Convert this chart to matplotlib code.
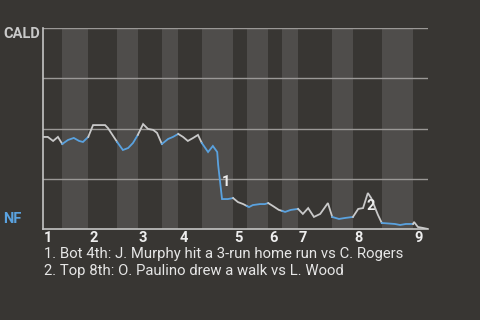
import matplotlib
matplotlib.use("Agg")
import matplotlib.pyplot as plt

plt.rcParams['font.family'] = ['Roboto', 'DejaVu Sans']

# half-inning boundaries, in plate appearances
half_bounds = [0, 4.0, 9.4, 15.4, 19.7, 24.7, 28.1, 33.0, 39.5, 42.4,
               46.8, 49.7, 53.0, 60.1, 64.4, 70.4, 76.9, 80.0]
inning_labels = ['1', '2', '3', '4', '5', '6', '7', '8', '9']

# win probability for the away side (CALD), percent
pa = [0.0, 1.0, 2.1, 3.1, 4.0, 5.2, 6.4, 7.5, 8.3, 9.4,
      10.4, 12.9, 13.5, 15.4, 16.6, 17.7, 18.7, 19.7, 20.8, 21.8,
      22.9, 23.7, 24.7, 26.0, 27.0, 28.1, 29.1, 30.1, 31.2, 32.2,
      33.0, 34.3, 35.3, 36.2, 36.4, 36.8, 37.2, 38.4, 39.5, 40.5,
      41.6, 42.4, 42.8, 43.6, 45.1, 46.1, 46.8, 47.8, 49.0, 49.7,
      50.3, 51.5, 53.0, 54.0, 55.1, 56.3, 57.6, 59.2, 60.1, 61.5,
      62.8, 64.4, 65.5, 66.5, 67.5, 68.2, 69.6, 70.4, 73.1, 74.2,
      75.4, 76.9, 77.1, 77.9, 79.0, 80.0]
wp = [45.8, 45.8, 43.8, 45.8, 42.3, 44.3, 45.3, 43.8, 43.3, 45.8,
      51.7, 51.7, 50.2, 43.3, 39.3, 40.3, 42.8, 46.8, 52.2, 49.8,
      49.3, 47.8, 42.3, 44.8, 45.8, 47.3, 45.8, 43.8, 45.3, 46.8,
      42.8, 38.3, 41.3, 38.3, 31.8, 23.4, 14.9, 14.9, 15.4, 13.4,
      12.4, 11.4, 10.9, 11.9, 12.4, 12.4, 12.9, 11.4, 9.5, 9.0,
      8.5, 9.5, 10.0, 7.5, 10.4, 6.0, 7.5, 12.9, 6.0, 5.0,
      5.5, 6.0, 10.0, 10.4, 17.9, 15.4, 7.0, 3.0, 2.5, 2.0,
      2.5, 2.5, 3.5, 1.0, 0.5, 0.0]

# key plays: index into pa/wp, label, offset of the number (points)
note_idx = [35, 64]
note_num = ['1', '2']
note_off = [(4.5, 0), (2.2, -9.4)]
notes = ['1. Bot 4th: J. Murphy hit a 3-run home run vs C. Rogers',
         '2. Top 8th: O. Paulino drew a walk vs L. Wood']

away, home = 'CALD', 'NF'
bg = '#383633'
band = '#4f4d4b'
away_col = '#c9c9c9'
home_col = '#5aa2df'

fig = plt.figure(figsize=(4.8, 3.2), dpi=100, facecolor=bg)
ax = fig.add_axes([43/480, 1-229/320, 385/480, 201/320])
ax.set_facecolor(bg)
ax.set_xlim(half_bounds[0], half_bounds[-1])
ax.set_ylim(0, 100)

# bottom halves get a lighter band and a home-coloured line
for i in range(len(half_bounds)-1):
    a, b = half_bounds[i], half_bounds[i+1]
    bottom = i % 2 == 1
    if bottom:
        ax.axvspan(a, b, color=band, lw=0, zorder=0)
    xs = [x for x in pa if a <= x <= b]
    ys = [y for x, y in zip(pa, wp) if a <= x <= b]
    ax.plot(xs, ys, color=home_col if bottom else away_col, lw=1.3,
            solid_joinstyle='miter', zorder=3)

for g in (25, 50, 75, 100):
    ax.axhline(g, color='#9a9896', lw=1, zorder=1)

for s in ('top', 'right'):
    ax.spines[s].set_visible(False)
for s in ('left', 'bottom'):
    ax.spines[s].set_color('#c4c4c4')
    ax.spines[s].set_linewidth(1.2)
ax.set_xticks([])
ax.set_yticks([])

for lab, x in zip(inning_labels, half_bounds[0::2]):
    ax.text(x + 0.2, -1, lab, ha='left', va='top', fontsize=10.5,
            fontweight='bold', color='#eeeeee')

for i, num, off in zip(note_idx, note_num, note_off):
    ax.annotate(num, xy=(pa[i], wp[i]), xytext=off, textcoords='offset points',
                ha='center', va='center', fontsize=10.5, fontweight='bold',
                color='#eeeeee', zorder=4)

fig.text(3/480, 1-34/320, away, ha='left', va='center', fontsize=10.5,
         fontweight='bold', color=away_col)
fig.text(3/480, 1-219/320, home, ha='left', va='center', fontsize=10.5,
         fontweight='bold', color=home_col)

for k, line in enumerate(notes):
    fig.text(44/480, 1-(254 + 17*k)/320, line, ha='left', va='center',
             fontsize=10.7, color='#e6e6e6')

fig.savefig('out.png', dpi=100, facecolor=bg)
